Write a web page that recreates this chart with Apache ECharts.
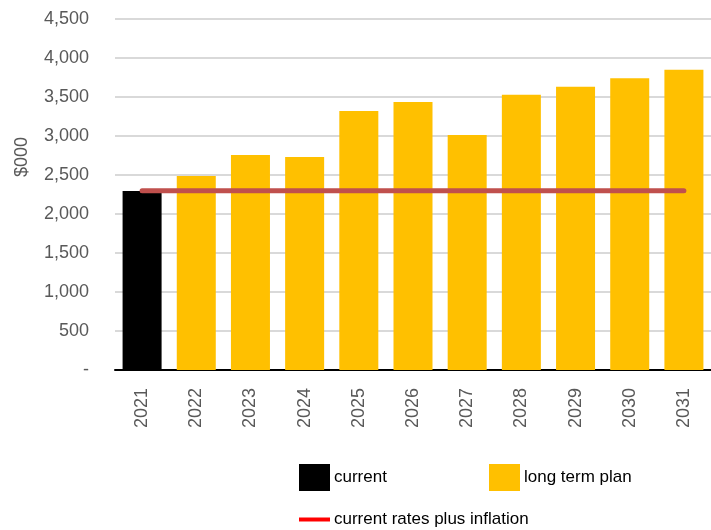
<!DOCTYPE html>
<html>
<head>
<meta charset="utf-8">
<script src="https://cdn.jsdelivr.net/npm/echarts@6/dist/echarts.min.js"></script>
<style>
  html, body { margin: 0; padding: 0; background: #fff; }
  #chart { width: 711px; height: 530px; }
</style>
</head>
<body>
<div id="chart"></div>
<script>
// years on the x axis
const years = ['2021', '2022', '2023', '2024', '2025', '2026', '2027', '2028', '2029', '2030', '2031'];
// $000 values
const currentVals = [2295, '-', '-', '-', '-', '-', '-', '-', '-', '-', '-'];
const planVals = ['-', 2487, 2756, 2731, 3320, 3436, 3013, 3530, 3632, 3739, 3850];
const inflationVals = [2298, 2298, 2298, 2298, 2298, 2298, 2298, 2298, 2298, 2298, 2298];

const txt = '#595959';
const font = 'Liberation Sans';

const chart = echarts.init(document.getElementById('chart'));

const opt = {
    animation: false,
    textStyle: { fontFamily: font },
    grid: { left: 115, right: -3, top: 19, bottom: 160, containLabel: false },
    xAxis: {
        type: 'category',
        data: years,
        axisLine: { lineStyle: { color: '#000', width: 2 } },
        axisTick: { show: false },
        axisLabel: { rotate: 90, margin: 18, color: txt, fontSize: 18, fontFamily: font }
    },
    yAxis: {
        type: 'value',
        min: 0,
        max: 4500,
        interval: 500,
        axisLine: { show: false },
        axisTick: { show: false },
        splitLine: { lineStyle: { color: '#D9D9D9', width: 2 } },
        axisLabel: {
            margin: 26,
            color: txt,
            fontSize: 18,
            fontFamily: font,
            formatter: function (v) {
                return v === 0 ? '-' : v.toLocaleString('en-US');
            }
        }
    },
    // legends placed one by one to match the layout
    legend: [
        {
            left: 299, top: 464, padding: 0, itemWidth: 31, itemHeight: 27, itemGap: 4,
            icon: 'rect',
            textStyle: { color: '#000', fontSize: 17, fontFamily: font, padding: [0, 0, 0, -1] },
            data: ['current']
        },
        {
            left: 489, top: 464, padding: 0, itemWidth: 31, itemHeight: 27, itemGap: 4,
            icon: 'rect',
            textStyle: { color: '#000', fontSize: 17, fontFamily: font, padding: [0, 0, 0, -1] },
            data: ['long term plan']
        },
        {
            left: 299, top: 511, padding: 0, itemWidth: 31, itemHeight: 4, itemGap: 4,
            icon: 'rect',
            textStyle: { color: '#000', fontSize: 17, fontFamily: font, padding: [0, 0, 0, -1] },
            data: [{ name: 'current rates plus inflation', itemStyle: { color: '#FF0000' } }]
        }
    ],
    graphic: [
        {
            type: 'text',
            x: 22, y: 157,
            rotation: Math.PI / 2,
            style: {
                text: '$000', fill: txt, fontSize: 18, fontFamily: font,
                textAlign: 'center', textVerticalAlign: 'middle'
            }
        }
    ],
    series: [
        {
            name: 'current',
            type: 'bar',
            stack: 'a',
            barCategoryGap: '28%',
            itemStyle: { color: '#000000' },
            data: currentVals
        },
        {
            name: 'long term plan',
            type: 'bar',
            stack: 'a',
            barCategoryGap: '28%',
            itemStyle: { color: '#FFC000' },
            data: planVals
        },
        {
            name: 'current rates plus inflation',
            type: 'line',
            symbol: 'none',
            z: 5,
            itemStyle: { color: '#FF0000' },
            lineStyle: { color: '#C0504D', width: 5, cap: 'round' },
            data: inflationVals
        }
    ]
};

chart.setOption(opt);
</script>
</body>
</html>
